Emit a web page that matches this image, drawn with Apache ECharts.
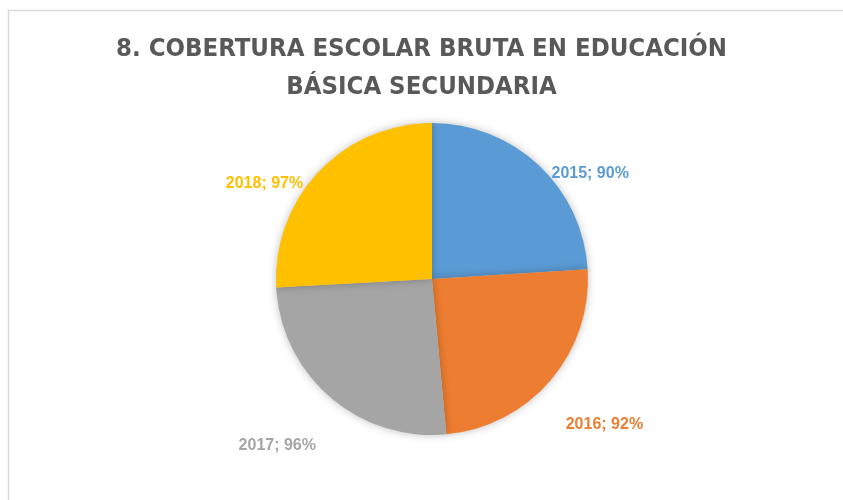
<!DOCTYPE html>
<html>
<head>
<meta charset="utf-8">
<script src="https://cdn.jsdelivr.net/npm/echarts@6/dist/echarts.min.js"></script>
<style>html,body{margin:0;padding:0;background:#fff}#c{width:843px;height:500px}</style>
</head>
<body>
<div id="c"></div>
<script>
var categories = ['2015', '2016', '2017', '2018'];
var values = [90, 92, 96, 97];
var colors = ['#5B9BD5', '#ED7D31', '#A5A5A5', '#FFC000'];
var titleLines = ['8. COBERTURA ESCOLAR BRUTA EN EDUCACIÓN', 'BÁSICA SECUNDARIA'];
var labelShift = [[-6, 23], [-5, 31], [4, 33], [4, 26]];

var chart = echarts.init(document.getElementById('c'), null, {renderer: 'canvas'});
chart.setOption({
  animation: false,
  backgroundColor: '#fff',
  title: {
    text: titleLines.join('\n'),
    left: 'center',
    top: 25,
    textStyle: {
      fontFamily: '"DejaVu Sans Condensed", Lato',
      fontWeight: 'bold',
      fontSize: 25.5,
      color: '#595959',
      lineHeight: 38
    }
  },
  graphic: [{
    type: 'rect',
    shape: {x: 8.5, y: 10.5, width: 900, height: 600},
    style: {fill: 'none', stroke: '#d9d9d9', lineWidth: 1.5},
    silent: true
  }],
  series: [{
    type: 'pie',
    center: [432, 279],
    radius: 156,
    startAngle: 90,
    clockwise: true,
    data: categories.map(function (c, i) {
      return {name: c, value: values[i], itemStyle: {color: colors[i]}, label: {color: colors[i]}};
    }),
    itemStyle: {shadowBlur: 8, shadowColor: 'rgba(0,0,0,0.25)'},
    label: {
      show: true,
      position: 'outside',
      formatter: function (p) { return p.name + '; ' + p.value + '%'; },
      fontFamily: 'Liberation Sans',
      fontWeight: 'bold',
      fontSize: 16
    },
    labelLine: {show: false, length: 20, length2: 0},
    labelLayout: function (p) {
      var s = labelShift[p.dataIndex];
      return {dx: s[0], dy: s[1]};
    }
  }]
});
</script>
</body>
</html>
